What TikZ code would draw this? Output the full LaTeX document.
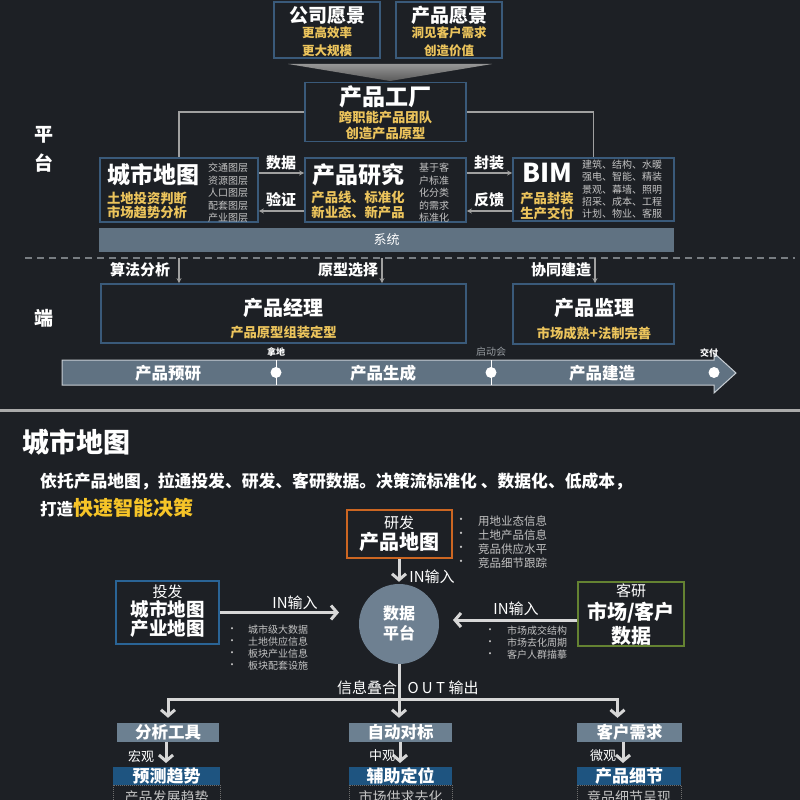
\documentclass[tikz,border=0pt]{standalone}
\usepackage{fontspec}
\setmainfont{Noto Sans CJK SC}
\usetikzlibrary{arrows.meta,calc}
\newcommand\fsz[1]{\fontsize{#1}{#1}\selectfont}
\definecolor{bg}{RGB}{29,32,37}
\definecolor{bord}{RGB}{58,90,122}
\definecolor{yel}{RGB}{236,196,92}
\definecolor{yelb}{RGB}{246,196,40}
\definecolor{bar}{RGB}{96,114,130}
\definecolor{lgray}{RGB}{195,195,195}
\definecolor{conn}{RGB}{160,160,160}
\definecolor{orng}{RGB}{204,102,34}
\definecolor{bluebd}{RGB}{42,100,150}
\definecolor{grn}{RGB}{100,130,50}
\definecolor{circ}{RGB}{110,128,145}
\definecolor{rowa}{RGB}{108,128,145}
\definecolor{rowb}{RGB}{30,84,128}
\definecolor{arw}{RGB}{215,215,215}
\tikzset{
 txt/.style={inner sep=0pt, text=white},
 ytx/.style={inner sep=0pt, text=yel},
 gtx/.style={inner sep=0pt, text=lgray},
 tbox/.style={draw=bord, line width=1.8pt, inner sep=0pt},
 sarrow/.style={draw=conn, line width=1.3pt, -{Stealth[length=5pt,width=5pt]}},
 cline/.style={draw=conn, line width=1.3pt},
 barrow/.style={draw=arw, line width=3pt, -{Straight Barb[length=6pt,width=14pt]}},
}
\begin{document}
\begin{tikzpicture}[x=1pt,y=-1pt]
\useasboundingbox (0,0) rectangle (800,800);
\clip (0,0) rectangle (800,800);
\fill[bg] (0,0) rectangle (800,800);

% ---------- top vision boxes
\node[tbox, minimum width=106, minimum height=56] (cv) at (327,30) {};
\node[txt, font=\fsz{19}\bfseries] (cvt) at (327,15) {公司愿景};
\node[ytx, font=\fsz{12.5}\bfseries] (cv1) at (327,33) {更高效率};
\node[ytx, font=\fsz{12.5}\bfseries] (cv2) at (327,51) {更大规模};
\node[tbox, minimum width=106, minimum height=56] (pv) at (449,30) {};
\node[txt, font=\fsz{19}\bfseries] (pvt) at (449,15) {产品愿景};
\node[ytx, font=\fsz{12.5}\bfseries] (pv1) at (449,33) {洞见客户需求};
\node[ytx, font=\fsz{12.5}\bfseries] (pv2) at (449,51) {创造价值};
\shade[top color={rgb,255:red,150;green,150;blue,150}, bottom color={rgb,255:red,90;green,90;blue,90}] (288,64) -- (492,64) -- (390,81) -- cycle;

% ---------- product factory
\node[tbox, minimum width=161, minimum height=59] (pf) at (385.5,112) {};
\node[txt, font=\fsz{23}\bfseries] (pft) at (385.5,97) {产品工厂};
\node[ytx, font=\fsz{13.3}\bfseries] (pf1) at (385.5,118) {跨职能产品团队};
\node[ytx, font=\fsz{13.3}\bfseries] (pf2) at (385.5,134) {创造产品原型};

% ---------- city map
\node[tbox, minimum width=158, minimum height=64] (cm) at (179,190) {};
\node[txt, font=\fsz{23}\bfseries] (cmt) at (153,175) {城市地图};
\node[ytx, font=\fsz{13.3}\bfseries] (cm1) at (147,198) {土地投资判断};
\node[ytx, font=\fsz{13.3}\bfseries] (cm2) at (147,212) {市场趋势分析};
\node[gtx, font=\fsz{10}] (cma) at (228,168) {交通图层};
\node[gtx, font=\fsz{10}] (cmb) at (228,180.5) {资源图层};
\node[gtx, font=\fsz{10}] (cmc) at (228,193) {人口图层};
\node[gtx, font=\fsz{10}] (cmd) at (228,205.5) {配套图层};
\node[gtx, font=\fsz{10}] (cme) at (228,218) {产业图层};

% ---------- product research
\node[tbox, minimum width=161, minimum height=64] (pr) at (385.5,190) {};
\node[txt, font=\fsz{23}\bfseries] (prt) at (358,175) {产品研究};
\node[ytx, font=\fsz{13.3}\bfseries] (pr1) at (358,198) {产品线、标准化};
\node[ytx, font=\fsz{13.3}\bfseries] (pr2) at (358,212) {新业态、新产品};
\node[gtx, font=\fsz{10}] (pra) at (434,168) {基于客};
\node[gtx, font=\fsz{10}] (prb) at (434,180.5) {户标准};
\node[gtx, font=\fsz{10}] (prc) at (434,193) {化分类};
\node[gtx, font=\fsz{10}] (prd) at (434,205.5) {的需求};
\node[gtx, font=\fsz{10}] (pre) at (434,218) {标准化};

% ---------- BIM
\node[tbox, minimum width=161, minimum height=63] (bim) at (593.5,189.5) {};
\node[txt, font=\fsz{26}\bfseries] (bimt) at (547,173) {BIM};
\node[ytx, font=\fsz{13.3}\bfseries] (bim1) at (547,199) {产品封装};
\node[ytx, font=\fsz{13.3}\bfseries] (bim2) at (547,213) {生产交付};
\node[gtx, font=\fsz{10}] (bima) at (622,165) {建筑、结构、水暖};
\node[gtx, font=\fsz{10}] (bimb) at (622,177) {强电、智能、精装};
\node[gtx, font=\fsz{10}] (bimc) at (622,189.5) {景观、幕墙、照明};
\node[gtx, font=\fsz{10}] (bimd) at (622,202) {招采、成本、工程};
\node[gtx, font=\fsz{10}] (bime) at (622,214) {计划、物业、客服};

% ---------- top connectors
\draw[cline] (pf.west) -| (cm.north);
\draw[cline] (pf.east) -| (bim.north);
\draw[sarrow] ($(cm.east)+(0,-17)$) -- ($(pr.west)+(0,-17)$);
\draw[sarrow] ($(pr.west)+(0,21)$) -- ($(cm.east)+(0,21)$);
\draw[sarrow] ($(pr.east)+(0,-17)$) -- ($(bim.west)+(0,-16.5)$);
\draw[sarrow] ($(bim.west)+(0,21.5)$) -- ($(pr.east)+(0,21)$);
\node[txt, font=\fsz{15}\bfseries] (l1) at (281,163) {数据};
\node[txt, font=\fsz{15}\bfseries] (l2) at (281,200) {验证};
\node[txt, font=\fsz{15}\bfseries] (l3) at (489,163) {封装};
\node[txt, font=\fsz{15}\bfseries] (l4) at (489,200) {反馈};

% ---------- system bar
\node[fill=bar, inner sep=0pt, minimum width=575, minimum height=24, text=white, font=\fsz{13}] (sys) at (386.5,240) {系统};
\draw[draw={rgb,255:red,120;green,125;blue,130}, line width=1.2pt, dash pattern=on 7pt off 5pt] (25,258) -- (795,258);

% ---------- side labels
\node[txt, font=\fsz{19}\bfseries] (s1) at (44,135) {平};
\node[txt, font=\fsz{19}\bfseries] (s2) at (44,163) {台};
\node[txt, font=\fsz{19}\bfseries] (s3) at (44,318) {端};

% ---------- end boxes
\node[tbox, minimum width=365, minimum height=59] (pm) at (283.5,313.5) {};
\node[txt, font=\fsz{20}\bfseries] (pmt) at (283.5,308) {产品经理};
\node[ytx, font=\fsz{13.3}\bfseries] (pm1) at (283.5,332) {产品原型组装定型};
\node[tbox, minimum width=161, minimum height=60] (ps) at (593.5,314) {};
\node[txt, font=\fsz{20}\bfseries] (pst) at (594,308) {产品监理};
\node[ytx, font=\fsz{13.3}\bfseries] (ps1) at (594,333) {市场成熟+法制完善};

\coordinate (d1) at (179,258);
\coordinate (d2) at (382,258);
\coordinate (d3) at (595,258);
\draw[sarrow] (d1) -- (d1 |- pm.north);
\draw[sarrow] (d2) -- (d2 |- pm.north);
\draw[sarrow] (d3) -- (d3 |- ps.north);
\node[txt, font=\fsz{15}\bfseries] (a1) at (140,270) {算法分析};
\node[txt, font=\fsz{15}\bfseries] (a2) at (348,270) {原型选择};
\node[txt, font=\fsz{15}\bfseries] (a3) at (561,270) {协同建造};

% ---------- timeline
\filldraw[fill=bar, draw={rgb,255:red,200;green,206;blue,212}, line width=1pt]
 (62,360) -- (714,360) -- (714,353) -- (736,373) -- (714,393) -- (714,385) -- (62,385) -- cycle;
\draw[white, line width=1pt] (276,360) -- (276,385);
\draw[white, line width=1pt] (491,360) -- (491,385);
\fill[white] (276,372.5) circle (5.5);
\fill[white] (491,372.5) circle (5.5);
\fill[white] (714,372.5) circle (5.5);
\node[txt, font=\fsz{16.5}\bfseries] (t1) at (168,373) {产品预研};
\node[txt, font=\fsz{16.5}\bfseries] (t2) at (383,373) {产品生成};
\node[txt, font=\fsz{16.5}\bfseries] (t3) at (602,373) {产品建造};
\node[txt, font=\fsz{9}\bfseries] (m1) at (276,352) {拿地};
\node[gtx, font=\fsz{10}, text={rgb,255:red,150;green,155;blue,160}] (m2) at (491,352) {启动会};
\node[txt, font=\fsz{9}\bfseries] (m3) at (709,353) {交付};

% ---------- separator
\draw[line width=3pt, draw={rgb,255:red,170;green,170;blue,170}] (0,410) -- (800,410);

% ---------- bottom section
\node[txt, font=\fsz{27}\bfseries] (bt) at (76,442) {城市地图};
\node[txt, anchor=west, font=\fsz{16.8}\bfseries] (bs1) at (40,481) {依托产品地图，拉通投发、研发、客研数据。决策流标准化 、数据化、低成本，};
\node[txt, anchor=west, font=\fsz{16.5}\bfseries] (bs2) at (40,508) {打造{\color{yelb}\fsz{20}快速智能决策}};

% research box
\node[draw=orng, line width=2pt, inner sep=0pt, minimum width=105, minimum height=48] (rf) at (399,534) {};
\node[txt, font=\fsz{15}] (rft) at (399,523) {研发};
\node[txt, font=\fsz{20}\bfseries] (rf1) at (399,542) {产品地图};
\foreach \yy/\tt [count=\i] in {521/用地业态信息, 535/土地产品信息, 549/竞品供应水平, 563/竞品细节跟踪}{
  \node[gtx, font=\fsz{11}] (rb\i) at (461,\yy) {•};
  \node[gtx, anchor=west, font=\fsz{11.5}] (rl\i) at (478,\yy) {\tt};
}

% data platform
\node[circle, fill=circ, minimum size=80, inner sep=0pt] (dp) at (399,624) {};
\node[txt, font=\fsz{16}\bfseries] (dp1) at (399,613) {数据};
\node[txt, font=\fsz{16}\bfseries] (dp2) at (399,633) {平台};
\draw[barrow, shorten >=2pt] (rf.south) -- (dp.north);
\node[txt, font=\fsz{15}] (in1) at (432,577) {IN输入};

% invest box
\node[draw=bluebd, line width=2pt, inner sep=0pt, minimum width=103, minimum height=63] (tf) at (167.5,612.5) {};
\node[txt, font=\fsz{15}] (tft) at (167.5,592) {投发};
\node[txt, font=\fsz{18.5}\bfseries] (tf1) at (167.5,609.5) {城市地图};
\node[txt, font=\fsz{18.5}\bfseries] (tf2) at (167.5,628.5) {产业地图};
\coordinate (inL) at (339,612.5);
\draw[barrow] (tf.east) -- (inL);
\node[txt, font=\fsz{15}] (in2) at (295,603) {IN输入};
\foreach \yy/\tt [count=\i] in {630/城市级大数据, 642/土地供应信息, 654/板块产业信息, 666/板块配套设施}{
  \node[gtx, font=\fsz{10}] (lb\i) at (232,\yy) {•};
  \node[gtx, anchor=west, font=\fsz{10}] (ll\i) at (248,\yy) {\tt};
}

% customer box
\node[draw=grn, line width=2pt, inner sep=0pt, minimum width=106, minimum height=64] (ky) at (631,614) {};
\node[txt, font=\fsz{15}] (kyt) at (631,591) {客研};
\node[txt, font=\fsz{20}\bfseries] (ky1) at (631,613) {市场/客户};
\node[txt, font=\fsz{20}\bfseries] (ky2) at (631,636) {数据};
\coordinate (inR) at (453,620);
\draw[barrow] ($(ky.west)+(0,6)$) -- (inR);
\node[txt, font=\fsz{15}] (in3) at (516,609) {IN输入};
\foreach \yy/\tt [count=\i] in {631/市场成交结构, 643/市场去化周期, 655/客户人群描摹}{
  \node[gtx, font=\fsz{10}] (kb\i) at (490,\yy) {•};
  \node[gtx, anchor=west, font=\fsz{10}] (kl\i) at (507,\yy) {\tt};
}

% outputs
\node[fill=rowa, inner sep=0pt, minimum width=102, minimum height=19, text=white, font=\fsz{16.5}\bfseries] (an) at (168,732.5) {分析工具};
\node[fill=rowa, inner sep=0pt, minimum width=103, minimum height=19, text=white, font=\fsz{16.5}\bfseries] (aut) at (400.5,732.5) {自动对标};
\node[fill=rowa, inner sep=0pt, minimum width=105, minimum height=19, text=white, font=\fsz{16.5}\bfseries] (kx) at (629.5,732.5) {客户需求};
\coordinate (hm) at (399,699);
\draw[barrow, shorten >=5pt] (dp.south) -- (dp.south |- aut.north);
\draw[barrow, shorten >=5pt] (hm) -| (an.north);
\draw[barrow, shorten >=5pt] (hm) -| ($(kx.north)+(-12,0)$);
\node[txt, font=\fsz{15}] (o1) at (367,688) {信息叠合};
\node[txt, font=\fsz{15}] (o2) at (443,688) {O U T 输出};

\node[fill=rowb, inner sep=0pt, minimum width=107, minimum height=18, text=white, font=\fsz{17}\bfseries] (yc) at (166.5,776) {预测趋势};
\node[fill=rowb, inner sep=0pt, minimum width=103, minimum height=18, text=white, font=\fsz{17}\bfseries] (fz) at (400.5,776) {辅助定位};
\node[fill=rowb, inner sep=0pt, minimum width=104, minimum height=18, text=white, font=\fsz{17}\bfseries] (xj) at (629,776) {产品细节};
\coordinate (e1) at (166,763);
\coordinate (e2) at (400,763);
\coordinate (e3) at (623,763);
\draw[barrow] (an.south -| e1) -- (e1);
\draw[barrow] (aut.south -| e2) -- (e2);
\draw[barrow] (kx.south -| e3) -- (e3);
\node[txt, font=\fsz{13}] (g1) at (141,756) {宏观};
\node[txt, font=\fsz{13}] (g2) at (382,756) {中观};
\node[txt, font=\fsz{13}] (g3) at (603,756) {微观};

\node[draw={rgb,255:red,110;green,110;blue,110}, dash pattern=on 1pt off 1pt, inner sep=0pt, minimum width=107, minimum height=30] (yc3) at (166.5,800) {};
\node[draw={rgb,255:red,110;green,110;blue,110}, dash pattern=on 1pt off 1pt, inner sep=0pt, minimum width=103, minimum height=30] (fz3) at (400.5,800) {};
\node[draw={rgb,255:red,110;green,110;blue,110}, dash pattern=on 1pt off 1pt, inner sep=0pt, minimum width=104, minimum height=30] (xj3) at (629,800) {};
\node[gtx, font=\fsz{14}] (yc4) at (166.5,797) {产品发展趋势};
\node[gtx, font=\fsz{14}] (fz4) at (400.5,797) {市场供求去化};
\node[gtx, font=\fsz{14}] (xj4) at (629,797) {竞品细节呈现};
\end{tikzpicture}
\end{document}
